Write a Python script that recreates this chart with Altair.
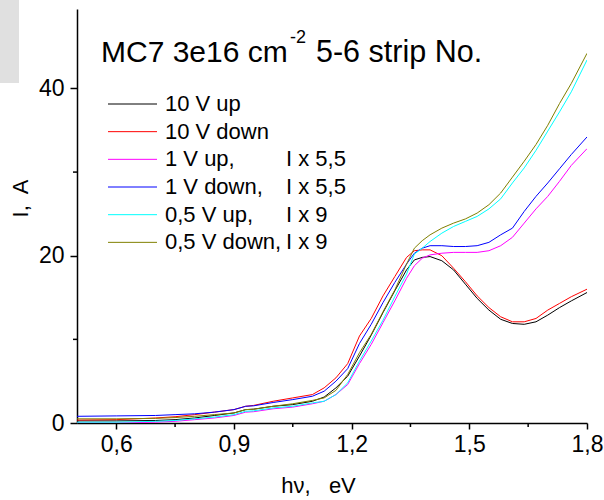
import altair as alt
import pandas as pd

FONT = "Liberation Sans"

# ---- data -------------------------------------------------------------
HV = [0.5, 0.6, 0.7, 0.75, 0.8, 0.85, 0.9, 0.93, 0.95, 1.0, 1.05, 1.1, 1.13, 1.16,
      1.19, 1.22, 1.25, 1.28, 1.31, 1.34, 1.36, 1.38, 1.40, 1.43, 1.46, 1.49, 1.52,
      1.55, 1.58, 1.61, 1.64, 1.67, 1.70, 1.73, 1.76, 1.80]

I_10V_UP = [0.25, 0.25, 0.3, 0.4, 0.6, 0.9, 1.2, 1.6, 1.65, 2.0, 2.2, 2.6, 3.1, 4.2,
            5.6, 8.0, 10.5, 13.2, 15.8, 18.3, 19.5, 19.8, 19.9, 19.4, 18.3, 16.6, 14.9,
            13.5, 12.4, 11.9, 11.8, 12.1, 12.9, 13.8, 14.6, 15.6]
I_10V_DOWN = [0.35, 0.4, 0.6, 0.75, 1.0, 1.3, 1.6, 2.0, 2.1, 2.6, 3.0, 3.4, 4.2, 5.4,
              7.1, 10.4, 12.5, 15.2, 17.5, 19.8, 20.6, 20.7, 20.7, 20.0, 18.5, 16.9, 15.2,
              13.8, 12.7, 12.1, 12.1, 12.5, 13.5, 14.3, 15.1, 16.0]
I_1V_UP = [0.0, 0.0, 0.1, 0.2, 0.4, 0.6, 0.9, 1.3, 1.35, 1.7, 1.9, 2.3, 2.6, 3.4,
           4.6, 7.1, 9.4, 12.0, 14.6, 17.3, 18.8, 19.7, 20.1, 20.3, 20.4, 20.4, 20.4,
           20.6, 21.2, 22.2, 23.9, 25.6, 27.1, 28.9, 30.8, 32.8]
I_1V_DOWN = [0.8, 0.85, 0.9, 1.0, 1.1, 1.3, 1.6, 2.0, 2.05, 2.45, 2.8, 3.2, 3.8, 5.0,
             6.5, 9.5, 11.8, 14.4, 16.8, 19.0, 20.3, 20.9, 21.2, 21.2, 21.1, 21.1, 21.2,
             21.6, 22.5, 23.3, 25.3, 27.1, 28.7, 30.4, 32.1, 34.2]
I_05V_UP = [0.1, 0.1, 0.2, 0.3, 0.5, 0.7, 1.0, 1.4, 1.45, 1.8, 2.0, 2.4, 2.6, 3.4,
            4.8, 7.4, 9.8, 12.3, 15.1, 17.8, 20.2, 20.9, 21.7, 22.7, 23.5, 24.1, 24.7,
            25.6, 26.8, 28.7, 30.5, 32.6, 34.9, 37.2, 39.6, 43.4]
I_05V_DOWN = [0.5, 0.5, 0.55, 0.65, 0.8, 1.0, 1.2, 1.6, 1.65, 2.0, 2.3, 2.7, 3.0, 3.9,
              5.8, 8.4, 10.6, 13.3, 15.9, 19.0, 20.9, 21.8, 22.5, 23.3, 23.9, 24.4, 25.1,
              26.1, 27.5, 29.4, 31.3, 33.3, 35.6, 38.2, 40.6, 44.2]

SERIES = ["10 V up", "10 V down", "1 V up", "1 V down", "0,5 V up", "0,5 V down"]
COLORS = ["#000000", "#ff0000", "#ff00ff", "#0000ff", "#00ffff", "#808000"]
LEG_MAIN = ["10 V up", "10 V down", "1 V up,", "1 V down,", "0,5 V up,", "0,5 V down,"]
LEG_FACTOR = ["", "", "I x 5,5", "I x 5,5", "I x 9", "I x 9"]

X_TICKS = [0.6, 0.9, 1.2, 1.5, 1.8]
X_MINOR = [0.75, 1.05, 1.35, 1.65]
Y_TICKS = [0, 20, 40]
Y_MINOR = [10, 30]

TITLE_PARTS = ["MC7 3e16 cm", "-2", "5-6 strip No."]
X_TITLE = "h\u03bd,\u00a0\u00a0 eV"
Y_TITLE = "I,\u00a0 A"

# ---- build ------------------------------------------------------------
rows = []
for name, ys in zip(SERIES, [I_10V_UP, I_10V_DOWN, I_1V_UP, I_1V_DOWN, I_05V_UP, I_05V_DOWN]):
    for x, y in zip(HV, ys):
        rows.append({"hv": x, "I": y, "series": name})
df = pd.DataFrame(rows)

W, H = 510, 414
xs = alt.Scale(domain=[0.5, 1.8], nice=False, zero=False)
ysc = alt.Scale(domain=[0, 49.5], nice=False, zero=False)
cs = alt.Scale(domain=SERIES, range=COLORS)

x_axis = alt.Axis(values=X_TICKS, labelExpr="replace(format(datum.value, '.1f'), '.', ',')",
                  tickSize=6, tickWidth=1.5, domainWidth=1.5, domainColor="black",
                  tickColor="black", labelFont=FONT, labelFontSize=23, labelColor="black",
                  labelPadding=4, grid=False, labelFlush=False, title=X_TITLE,
                  titleFont=FONT, titleFontSize=22, titleFontWeight="normal",
                  titleColor="black", titleX=241, titleY=69, titleAlign="center",
                  titleBaseline="alphabetic", titleAnchor=None)
y_axis = alt.Axis(values=Y_TICKS, format="d", tickSize=7, tickWidth=1.5, domainWidth=1.5,
                  domainColor="black", tickColor="black", labelFont=FONT, labelFontSize=23,
                  labelColor="black", labelPadding=6, grid=False, labelFlush=False,
                  title=Y_TITLE, titleFont=FONT, titleFontSize=22, titleFontWeight="normal",
                  titleColor="black", titleX=-57, titleY=189, titleAngle=270,
                  titleAlign="center", titleBaseline="middle")

lines = alt.Chart(df).mark_line(strokeWidth=1, clip=True).encode(
    x=alt.X("hv:Q", scale=xs, axis=x_axis),
    y=alt.Y("I:Q", scale=ysc, axis=y_axis),
    color=alt.Color("series:N", scale=cs, legend=None),
)

xminor = alt.Chart(pd.DataFrame({"v": X_MINOR})).mark_rule(strokeWidth=1.5, color="black").encode(
    x=alt.X("v:Q", scale=xs, axis=None), y=alt.value(H), y2=alt.value(H + 4))
yminor = alt.Chart(pd.DataFrame({"v": Y_MINOR})).mark_rule(strokeWidth=1.5, color="black").encode(
    y=alt.Y("v:Q", scale=ysc, axis=None), x=alt.value(-4), x2=alt.value(0))

df_leg = pd.DataFrame({"series": SERIES, "main": LEG_MAIN, "fac": LEG_FACTOR,
                       "row": list(range(len(SERIES)))})
LEG_Y0, LEG_DY = 95.0, 27.67
leg_base = alt.Chart(df_leg).transform_calculate(py=f"{LEG_Y0} + datum.row * {LEG_DY}")
leg_lines = leg_base.mark_rule(strokeWidth=1).encode(
    x=alt.value(31), x2=alt.value(80), y=alt.Y("py:Q", scale=None),
    color=alt.Color("series:N", scale=cs, legend=None))
leg_text = leg_base.mark_text(align="left", baseline="middle", font=FONT, fontSize=22,
                              color="black").encode(
    x=alt.value(88), y=alt.Y("py:Q", scale=None), text="main:N")
leg_fac = leg_base.mark_text(align="left", baseline="middle", font=FONT, fontSize=22,
                             color="black").encode(
    x=alt.value(209), y=alt.Y("py:Q", scale=None), text="fac:N")

t1 = alt.Chart(pd.DataFrame({"t": [TITLE_PARTS[0]]})).mark_text(
    align="left", baseline="alphabetic", font=FONT, fontSize=30, color="black").encode(
    x=alt.value(101 - 77), y=alt.value(62 - 9), text="t:N")
t2 = alt.Chart(pd.DataFrame({"t": [TITLE_PARTS[1]]})).mark_text(
    align="left", baseline="alphabetic", font=FONT, fontSize=18, color="black").encode(
    x=alt.value(290 - 77), y=alt.value(43 - 9), text="t:N")
t3 = alt.Chart(pd.DataFrame({"t": [TITLE_PARTS[2]]})).mark_text(
    align="left", baseline="alphabetic", font=FONT, fontSize=30.5, color="black").encode(
    x=alt.value(316 - 77), y=alt.value(62 - 9), text="t:N")

gray = alt.Chart(pd.DataFrame({"a": [0]})).mark_rect(color="#e0e0e0").encode(
    x=alt.value(-77), x2=alt.value(-58), y=alt.value(-9), y2=alt.value(74))

chart = alt.layer(
    lines, xminor, yminor, leg_lines, leg_text, leg_fac, t1, t2, t3, gray
).resolve_scale(x="independent", y="independent").properties(
    width=W, height=H,
    autosize=alt.AutoSizeParams(type="none"),
    padding={"left": 77, "top": 9, "right": 17, "bottom": 77},
    background="white",
).configure_view(stroke=None)

chart.save("out.html", embed_options={"renderer": "svg", "actions": False})
